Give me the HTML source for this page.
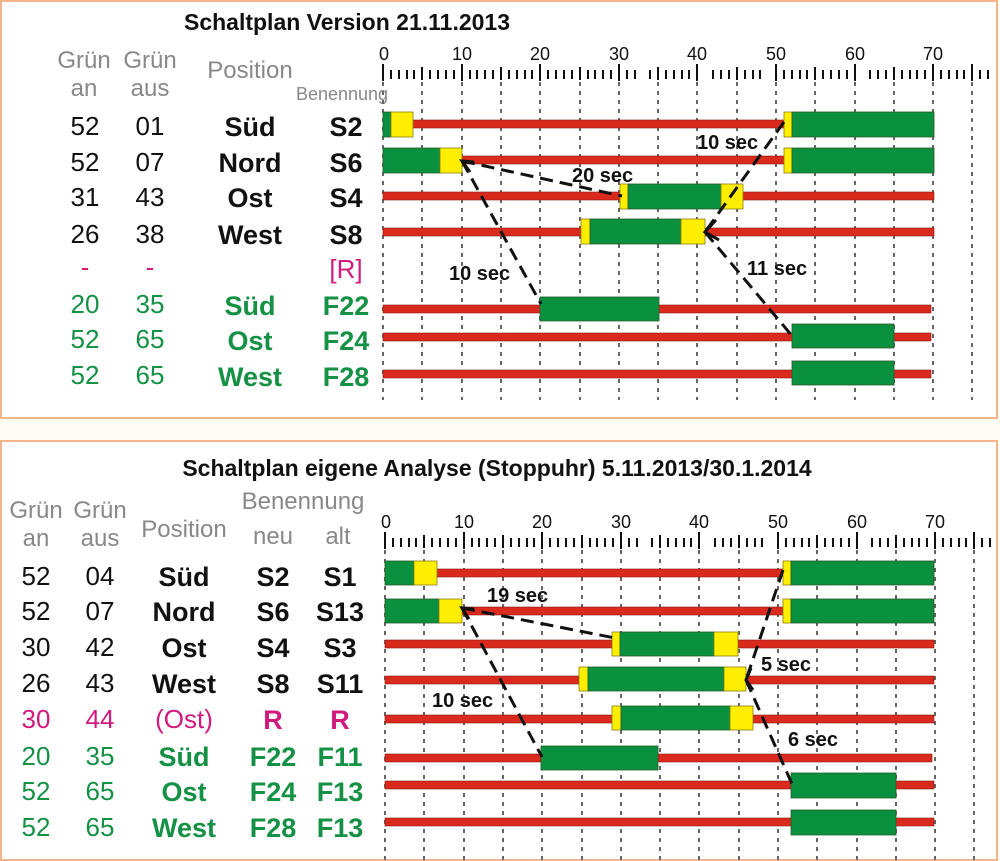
<!DOCTYPE html>
<html><head><meta charset="utf-8"><style>
html,body{margin:0;padding:0;background:#fffcf3;}
svg{display:block;font-family:"Liberation Sans",Arial,sans-serif;}
.g{fill:#0a9140;stroke:#2a5a2a;stroke-width:0.8}
.y{fill:#ffee00;stroke:#8a7a10;stroke-width:0.8}
.r{fill:#da2a1e;stroke:#8a1a10;stroke-width:0.6}
.grid{stroke:#666;stroke-width:2;stroke-dasharray:4,5}
.dash{stroke:#111;stroke-width:3;stroke-dasharray:13,7;fill:none}
.hd{fill:#888;font-size:24px}
.num{fill:#111;font-size:26px}
.b{font-weight:bold;font-size:27px;fill:#111}
.gr{fill:#149145}
.mg{fill:#d11a7e}
.lab{font-weight:bold;font-size:20px;fill:#111}
.tk{fill:#111;font-size:18px}
</style></head><body>
<svg width="1000" height="861" viewBox="0 0 1000 861" xmlns="http://www.w3.org/2000/svg">
<rect x="1" y="1" width="996" height="417" fill="#fff" stroke="#f5b58a" stroke-width="2"/>
<rect x="1" y="441" width="996" height="419" fill="#fff" stroke="#f5b58a" stroke-width="2"/>

<!-- ===== TOP ===== -->
<text x="347" y="30" text-anchor="middle" font-weight="bold" font-size="23" fill="#111">Schaltplan Version 21.11.2013</text>
<g class="hd" text-anchor="middle">
<text x="84" y="68">Grün</text><text x="84" y="96">an</text>
<text x="150" y="68">Grün</text><text x="150" y="96">aus</text>
<text x="250" y="78">Position</text>
<text x="342" y="100" font-size="18">Benennung</text>
</g>
<g text-anchor="middle">
<text class="num" x="85" y="135">52</text><text class="num" x="150" y="135">01</text><text class="b" x="250" y="136">Süd</text><text class="b" x="346" y="136">S2</text>
<text class="num" x="85" y="171">52</text><text class="num" x="150" y="171">07</text><text class="b" x="250" y="172">Nord</text><text class="b" x="346" y="172">S6</text>
<text class="num" x="85" y="206">31</text><text class="num" x="150" y="206">43</text><text class="b" x="250" y="207">Ost</text><text class="b" x="346" y="207">S4</text>
<text class="num" x="85" y="243">26</text><text class="num" x="150" y="243">38</text><text class="b" x="250" y="244">West</text><text class="b" x="346" y="244">S8</text>
<text class="num mg" x="85" y="276">-</text><text class="num mg" x="150" y="276">-</text><text class="num mg" x="346" y="278">[R]</text>
<text class="num gr" x="85" y="313">20</text><text class="num gr" x="150" y="313">35</text><text class="b gr" x="250" y="315">Süd</text><text class="b gr" x="346" y="315">F22</text>
<text class="num gr" x="85" y="348">52</text><text class="num gr" x="150" y="348">65</text><text class="b gr" x="250" y="350">Ost</text><text class="b gr" x="346" y="350">F24</text>
<text class="num gr" x="85" y="384">52</text><text class="num gr" x="150" y="384">65</text><text class="b gr" x="250" y="386">West</text><text class="b gr" x="346" y="386">F28</text>
</g>
<!-- top ruler -->
<g id="rulerTop">
<g class="tk" text-anchor="middle">
<text x="384" y="60">0</text><text x="462" y="60">10</text><text x="540" y="60">20</text><text x="619" y="60">30</text><text x="697" y="60">40</text><text x="776" y="60">50</text><text x="855" y="60">60</text><text x="933" y="60">70</text>
</g>
<path stroke="#111" stroke-width="2" d="
M383,64V81 M462,64V81 M540,64V81 M619,64V81 M697,64V81 M776,64V81 M855,64V81 M933,64V81 M972,64V81
M391,70V79 M399,70V79 M407,70V79 M414,70V79 M422,67V80 M430,70V79 M438,70V79 M446,70V79 M454,70V79
M470,70V79 M477,70V79 M485,70V79 M493,70V79 M501,67V80 M509,70V79 M517,70V79 M525,70V79 M532,70V79
M548,70V79 M556,70V79 M564,70V79 M572,70V79 M580,67V80 M588,70V79 M595,70V79 M603,70V79 M611,70V79
M627,70V79 M635,70V79 M650,70V79 M658,67V80 M666,70V79 M674,70V79 M682,70V79 M689,70V79
M713,70V79 M721,70V79 M729,70V79 M737,67V80 M745,70V79 M753,70V79 M760,70V79
M784,70V79 M792,70V79 M800,70V79 M807,70V79 M815,67V80 M823,70V79 M831,70V79 M839,70V79 M847,70V79
M870,70V79 M878,70V79 M886,70V79 M894,67V80 M902,70V79 M910,70V79 M917,70V79 M925,70V79
M941,70V79 M949,70V79 M957,70V79 M964,70V79 M980,70V79 M988,70V79"/>
<g class="grid">
<line x1="383" y1="82" x2="383" y2="400"/><line x1="422" y1="82" x2="422" y2="400"/><line x1="462" y1="82" x2="462" y2="400"/><line x1="501" y1="82" x2="501" y2="400"/><line x1="540" y1="82" x2="540" y2="400"/><line x1="580" y1="82" x2="580" y2="400"/><line x1="619" y1="82" x2="619" y2="400"/><line x1="658" y1="82" x2="658" y2="400"/><line x1="697" y1="82" x2="697" y2="400"/><line x1="737" y1="82" x2="737" y2="400"/><line x1="776" y1="82" x2="776" y2="400"/><line x1="815" y1="82" x2="815" y2="400"/><line x1="855" y1="82" x2="855" y2="400"/><line x1="894" y1="82" x2="894" y2="400"/><line x1="933" y1="82" x2="933" y2="400"/><line x1="972" y1="82" x2="972" y2="400"/>
</g>
</g>
<!-- top bars -->
<rect class="r" x="383" y="120" width="551" height="8"/>
<rect class="g" x="383" y="112" width="8" height="25"/><rect class="y" x="391" y="112" width="22" height="25"/>
<rect class="y" x="784" y="112" width="8" height="25"/><rect class="g" x="792" y="112" width="142" height="25"/>

<rect class="r" x="383" y="156" width="551" height="8"/>
<rect class="g" x="383" y="148" width="57" height="25"/><rect class="y" x="440" y="148" width="22" height="25"/>
<rect class="y" x="784" y="148" width="8" height="25"/><rect class="g" x="792" y="148" width="142" height="25"/>

<rect class="r" x="383" y="192" width="551" height="8"/>
<rect class="y" x="620" y="184" width="8" height="25"/><rect class="g" x="628" y="184" width="93" height="25"/><rect class="y" x="721" y="184" width="22" height="25"/>

<rect class="r" x="383" y="228" width="551" height="8"/>
<rect class="y" x="581" y="219" width="9" height="25"/><rect class="g" x="590" y="219" width="91" height="25"/><rect class="y" x="681" y="219" width="24" height="25"/>

<rect class="r" x="383" y="305" width="548" height="8"/>
<rect class="g" x="540" y="297" width="119" height="24"/>
<rect class="r" x="383" y="333" width="548" height="8"/>
<rect class="g" x="792" y="324" width="102" height="24"/>
<rect class="r" x="383" y="370" width="548" height="8"/>
<rect class="g" x="792" y="361" width="102" height="24"/>

<path class="dash" d="M462,161 L622,196"/>
<path class="dash" d="M462,161 L541,304"/>
<path class="dash" d="M784,122 L705,232"/>
<path class="dash" d="M705,232 L793,337"/>
<path d="M716,220 L705,232 L719,240 M474,162 L462,161 L470,172" stroke="#111" stroke-width="3" fill="none"/>
<text class="lab" x="697" y="149">10 sec</text>
<text class="lab" x="572" y="182">20 sec</text>
<text class="lab" x="449" y="280">10 sec</text>
<text class="lab" x="747" y="275">11 sec</text>

<!-- ===== BOTTOM ===== -->
<text x="497" y="476" text-anchor="middle" font-weight="bold" font-size="23" fill="#111">Schaltplan eigene Analyse (Stoppuhr) 5.11.2013/30.1.2014</text>
<g class="hd" text-anchor="middle">
<text x="36" y="518">Grün</text><text x="36" y="546">an</text>
<text x="100" y="518">Grün</text><text x="100" y="546">aus</text>
<text x="184" y="537">Position</text>
<text x="303" y="509">Benennung</text>
<text x="273" y="544">neu</text><text x="338" y="544">alt</text>
</g>
<g text-anchor="middle">
<text class="num" x="36" y="585">52</text><text class="num" x="100" y="585">04</text><text class="b" x="184" y="586">Süd</text><text class="b" x="273" y="586">S2</text><text class="b" x="340" y="586">S1</text>
<text class="num" x="36" y="620">52</text><text class="num" x="100" y="620">07</text><text class="b" x="184" y="621">Nord</text><text class="b" x="273" y="621">S6</text><text class="b" x="340" y="621">S13</text>
<text class="num" x="36" y="656">30</text><text class="num" x="100" y="656">42</text><text class="b" x="184" y="657">Ost</text><text class="b" x="273" y="657">S4</text><text class="b" x="340" y="657">S3</text>
<text class="num" x="36" y="692">26</text><text class="num" x="100" y="692">43</text><text class="b" x="184" y="693">West</text><text class="b" x="273" y="693">S8</text><text class="b" x="340" y="693">S11</text>
<text class="num mg" x="36" y="728">30</text><text class="num mg" x="100" y="728">44</text><text class="num mg" x="184" y="728">(Ost)</text><text class="b mg" x="273" y="729">R</text><text class="b mg" x="340" y="729">R</text>
<text class="num gr" x="36" y="765">20</text><text class="num gr" x="100" y="765">35</text><text class="b gr" x="184" y="766">Süd</text><text class="b gr" x="273" y="766">F22</text><text class="b gr" x="340" y="766">F11</text>
<text class="num gr" x="36" y="800">52</text><text class="num gr" x="100" y="800">65</text><text class="b gr" x="184" y="801">Ost</text><text class="b gr" x="273" y="801">F24</text><text class="b gr" x="340" y="801">F13</text>
<text class="num gr" x="36" y="836">52</text><text class="num gr" x="100" y="836">65</text><text class="b gr" x="184" y="837">West</text><text class="b gr" x="273" y="837">F28</text><text class="b gr" x="340" y="837">F13</text>
</g>
<use href="#rulerTop" transform="translate(2,468)"/>

<!-- bottom bars -->
<rect class="r" x="385" y="569" width="549" height="8"/>
<rect class="g" x="385" y="561" width="29" height="24"/><rect class="y" x="414" y="561" width="23" height="24"/>
<rect class="y" x="783" y="561" width="8" height="24"/><rect class="g" x="791" y="561" width="143" height="24"/>

<rect class="r" x="385" y="607" width="549" height="8"/>
<rect class="g" x="385" y="599" width="54" height="24"/><rect class="y" x="439" y="599" width="23" height="24"/>
<rect class="y" x="783" y="599" width="8" height="24"/><rect class="g" x="791" y="599" width="143" height="24"/>

<rect class="r" x="385" y="640" width="549" height="8"/>
<rect class="y" x="612" y="632" width="8" height="24"/><rect class="g" x="620" y="632" width="94" height="24"/><rect class="y" x="714" y="632" width="24" height="24"/>

<rect class="r" x="385" y="676" width="549" height="8"/>
<rect class="y" x="579" y="667" width="9" height="24"/><rect class="g" x="588" y="667" width="136" height="24"/><rect class="y" x="724" y="667" width="22" height="24"/>

<rect class="r" x="385" y="715" width="549" height="8"/>
<rect class="y" x="612" y="706" width="9" height="24"/><rect class="g" x="621" y="706" width="109" height="24"/><rect class="y" x="730" y="706" width="23" height="24"/>

<rect class="r" x="385" y="754" width="547" height="8"/>
<rect class="g" x="541" y="746" width="117" height="24"/>
<rect class="r" x="385" y="781" width="549" height="8"/>
<rect class="g" x="791" y="773" width="105" height="25"/>
<rect class="r" x="385" y="818" width="549" height="8"/>
<rect class="g" x="791" y="810" width="105" height="25"/>

<path class="dash" d="M462,608 L615,638"/>
<path class="dash" d="M462,608 L542,757"/>
<path class="dash" d="M783,570 L746,680"/>
<path class="dash" d="M746,680 L792,784"/>
<path d="M474,609 L462,608 L469,619 M751,668 L746,680 L753,690" stroke="#111" stroke-width="3" fill="none"/>
<text class="lab" x="487" y="602">19 sec</text>
<text class="lab" x="761" y="671">5 sec</text>
<text class="lab" x="432" y="707">10 sec</text>
<text class="lab" x="788" y="746">6 sec</text>
</svg>
</body></html>
